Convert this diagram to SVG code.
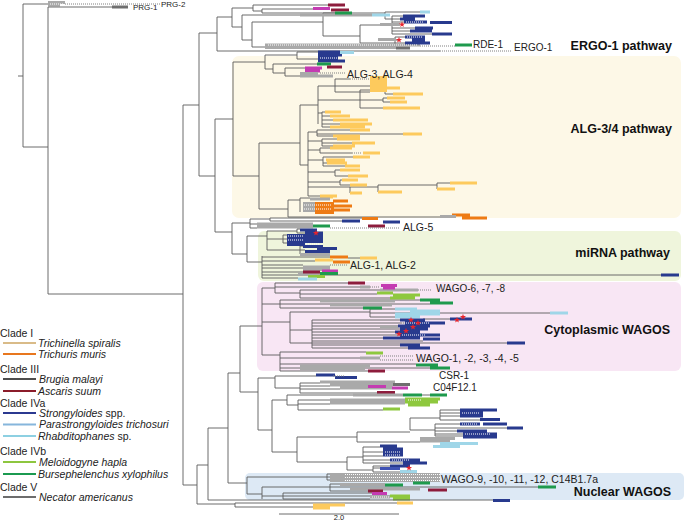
<svg xmlns="http://www.w3.org/2000/svg" xmlns:xlink="http://www.w3.org/1999/xlink" width="685" height="521" viewBox="0 0 685 521">
<style>
.t{fill:none;stroke:#5b5b5b;stroke-width:0.9}
.b{fill:none;stroke-width:3}
.gy{stroke:#a9a9a9}.dg{stroke:#6f6f6f}.nv{stroke:#283a8e}.bl{stroke:#3f52b4}.lb{stroke:#9fd6e8}
.mg{stroke:#c43bb2}.dr{stroke:#8d1c3c}.lm{stroke:#8ec83e}.gn{stroke:#1e9a4d}.or{stroke:#ee7b14}.yl{stroke:#fdca5d}
.dt{fill:none;stroke:#808080;stroke-width:1;stroke-dasharray:1 1}
.wd{fill:none;stroke:#fff;stroke-width:1;stroke-dasharray:1 1}
.lab{font-family:"Liberation Sans",Arial,sans-serif;font-size:10.5px;fill:#222}
.hd{font-family:"Liberation Sans",Arial,sans-serif;font-size:12.5px;font-weight:bold;fill:#111;text-anchor:end}
.lg{font-family:"Liberation Sans",Arial,sans-serif;font-size:10.5px;fill:#222}
.it{font-style:italic}
.ll{fill:none;stroke-width:2.2}
.star{fill:#e8242c}
</style>
<defs>
<path id="star" d="M0,-3.2L0.76,-1.05L3.04,-0.99L1.24,0.4L1.88,2.59L0,1.3L-1.88,2.59L-1.24,0.4L-3.04,-0.99L-0.76,-1.05Z"/>
</defs>
<rect width="685" height="521" fill="#fff"/>
<g id="backgrounds">
<rect x="232" y="56" width="449" height="162" rx="7" fill="#fdf8e7"/>
<rect x="258" y="231" width="423" height="50" rx="6" fill="#eff5dc"/>
<rect x="257" y="282" width="424" height="89" rx="6" fill="#f8e6f4"/>
<rect x="245" y="473" width="439" height="27" rx="5" fill="#dde9f5"/>
</g>
<g id="connectors">
<path class="t" d="M18 76H23M23 4V147M23 4H48M23 147H48M48 7V294M48 294H183M183 105V485M183 105H199M199 33V176M199 33H217M217 17V51M199 176H215M215 119V232M215 119H233M233 62V176M233 176H259M259 143V209M215 232H232M232 223V254M183 485H197M197 465V504M197 465H208M208 428V500M208 428H228M228 373V483M228 373H240M240 326V392"/>
</g>
<g id="clade-prg">
<path class="b gy" d="M48 2.5H65M48 5H60"/>
<path class="wd" d="M50 4H64"/>
<path class="dt" d="M65 4H160"/>
<path class="t" d="M48 7H112"/>
<path class="b dg" d="M112 7H128"/>
</g>
<g id="clade-ergo1">
<path class="t" d="M217 17H232M232 8V27M232 8H253M253 5V11M253 5H328M253 11H262M262 9V13M262 9H313M262 13H335M232 27H242M242 15V40M242 15H300M242 40H252M252 22V47M252 22H323M323 13V36M323 13H385M385 12V19M385 12H420M385 19H400M323 36H360M360 25V43M360 25H392M392 16V34M392 16H403M392 22H404M392 25H400M392 28H415M392 31H410M392 34H432M360 43H395M395 37V46M395 37H405M395 40H398M395 43H405M252 47H265M217 51H440"/>
<path class="b gy" d="M300 15H372M265 45H420M265 47.5H396M380 24.5H400M378 39.5H396"/>
<path class="b dg" d="M396 48H410"/>
<path class="b dr" d="M328 5H345M331 10H349"/>
<path class="b mg" d="M313 8.5H330"/>
<path class="b gn" d="M335 13H352M455 45H472"/>
<path class="b lb" d="M372 15H390M420 12H430"/>
<path class="b nv" d="M403 16H425M400 19H415M404 22H427M430 22.5H452M415 28H433M410 31H432M432 34H452M405 37H425M412 40H425M405 43H430"/>
<path class="wd" d="M406 22H424M407 37H423M268 45H418"/>
<path class="dt" d="M420 46H455M440 51H512"/>
<use href="#star" class="star" x="402" y="24.5"/>
<use href="#star" class="star" x="399" y="40"/>
</g>
<g id="clade-alg34">
<path class="t" d="M233 62H265M265 55V69M265 55H297M297 52V59M297 52H318M297 59H318M265 69H273M273 64V73M273 64H317M273 73H285M285 68V76M285 68H305M285 76H300"/>
<path class="b nv" d="M318 52H340M318 55H342M318 58H338M318 61H345"/>
<path class="wd" d="M320 58H337"/>
<path class="b lb" d="M340 52.5H354"/>
<path class="b gn" d="M317 64H331"/>
<path class="b mg" d="M305 68H322M305 71H320"/>
<path class="b dr" d="M327 67H342"/>
<path class="b gy" d="M300 76H333M300 73.5H318"/>
<path class="dt" d="M320 73H346"/>
<path class="t" d="M259 143H300M300 105V165M300 105H318M318 86V124M318 86H335M335 79V92M335 79H350M335 86H370M335 92H370M318 100H360M360 90V108M360 90H385M385 88V94M385 88H387M385 94H393M360 100H383M383 98V102M383 98H387M383 102H390M360 108H383M318 113H322M322 112V127M322 112H325M322 116H330M322 120H333M322 124H340M322 127H330"/>
<rect x="370" y="76" width="17" height="16" fill="#fdca5d"/>
<path class="dt" d="M350 79H369"/>
<path class="b yl" d="M387 88H400M393 94H423M387 98H405M390 102H407M383 108H420M325 112H341M330 116H350M333 120H368M340 124H372M330 127H365"/>
<path class="t" d="M300 165H308M308 132V196M308 132H317M317 130V136M317 130H350M317 134H403M317 136H333M308 141H322M322 139V146M322 139H337M322 143H352M322 146H333M308 150H320M320 148V153M320 148H330M320 153H352M308 160H323M323 157V166M323 157H353M323 163H327M323 166H345M308 172H335M335 170V176M335 170H340M335 176H348M308 182H340M340 180V185M340 180H342M340 185H350M308 187H350M350 187V193M350 187H378M378 185V192M378 185H437M437 183V189M437 183H450M378 192H378M308 196H320"/>
<path class="b yl" d="M350 130H370M403 134H422M333 136H360M337 139H360M352 143H375M333 146H355M330 148H352M363 153H380M353 157H370M327 163H347M345 166H360M340 170H360M348 176H368M342 180H358M350 185H367M450 183H477M437 189H455M378 192H402M350 193H362M320 196H337M326 160H345"/>
<path class="dt" d="M352 153H362"/>
<path class="t" d="M259 209H288M288 200V217M288 200H300M300 198V212M300 198H310M288 217H452"/>
<rect x="303" y="202" width="13" height="10" fill="#a9a9a9"/>
<rect x="315" y="202" width="19" height="12" fill="#ee7b14"/>
<path class="wd" d="M304 205H332M304 209H332"/>
<path class="b or" d="M333 201H348M333 206H352M333 210H350M452 215H470M462 218H487"/>
<path class="b yl" d="M320 197H333"/>
<path class="b gy" d="M310 199H330M440 216.5H456"/>
</g>
<g id="clade-alg5">
<path class="t" d="M232 223H250M250 219V228M250 219H270M270 218V221M270 218H362M270 221H342M250 224H257M250 228H257"/>
<path class="b gy" d="M257 224H313M257 227H313"/>
<path class="b gn" d="M313 226H330"/>
<path class="b dr" d="M368 226H385"/>
<path class="b nv" d="M342 221H360M383 222H400"/>
<path class="b or" d="M362 218.5H378"/>
<path class="dt" d="M330 228H400"/>
</g>
<g id="clade-mirna">
<path class="t" d="M232 254H247M247 236V262M247 236H267M267 231V250M267 231H297M297 229V233M297 229H300M297 233H305M267 239H283M283 235V243M283 235H287M283 239H287M283 243H287M267 250H300M300 246V254M300 246H303M300 250H305M247 262H262M262 256V278M262 257H330M348 258H360M262 261H315M262 265H303M262 268H303M262 272H303M262 275H661M262 278H298"/>
<path class="b nv" d="M300 230H317M305 233H323M287 235.5H323M287 238.5H323M287 241.5H323M287 244.5H305M303 246.5H323M317 248.5H337M305 251.5H330M661 275H679"/>
<path class="wd" d="M288 236H304M288 240H304M306 244H320"/>
<use href="#star" class="star" x="316" y="233"/>
<path class="b gy" d="M300 254.5H330M303 267H330M303 269.5H330M298 274H320"/>
<path class="b or" d="M330 257H348M333 262H350"/>
<path class="b yl" d="M360 258H377M315 260H333"/>
<path class="dt" d="M330 265H348"/>
<path class="b dr" d="M303 272H320"/>
<path class="b mg" d="M322 271H338"/>
<path class="b gn" d="M320 273.5H338"/>
<path class="b lm" d="M308 276.5H325"/>
<path class="b lb" d="M298 279H317"/>
</g>
<g id="clade-cytoplasmic-wago">
<path class="t" d="M240 326H262M262 288V355M262 288H275M275 283V293M275 283H348M275 287H360M275 293H300M300 290V298M300 290H380M300 294H377M300 298H390M262 304H280M280 300V308M280 300H420M280 304H430M280 308H363M262 322H290M290 312V343M290 312H370M370 309V317M370 309H395M370 313H550M370 317H395M290 330H312M312 320V348M312 320H400M312 323H405M312 326H398M312 329H400M312 332H395M312 335H400M312 338H383M312 341H423M312 345H400M312 348H408M290 343H507M262 355H280M280 352V371M280 352H366M280 358H360M280 364H416M280 368H430M280 371H368M423 319H450"/>
<path class="b dr" d="M348 283H365M368 371H385"/>
<path class="b gy" d="M360 287H370M380 290H418M320 301H395M330 305H392M360 358H380M300 366H370M300 369H365M380 327H398"/>
<path class="dt" d="M370 287H380M418 290H432M380 356H413M380 360H413"/>
<path class="b mg" d="M381 285.5H397M383 288H395"/>
<path class="b lm" d="M377 293H393M393 295H420M390 298H415M366 353H383"/>
<path class="b gn" d="M420 300H440M430 303H453M363 308H382M416 365H438M430 368H450"/>
<path class="b lb" d="M395 309H417M410 311H440M395 314H440M395 317H420M550 313H568"/>
<path class="b nv" d="M400 320H425M405 323H445M398 326H430M400 329H428M395 332H420M400 335H440M383 338H420M423 339H440M400 345H420M408 348H430M507 343H525M450 319H472"/>
<path class="wd" d="M402 323H430M402 335H425"/>
<use href="#star" class="star" x="411" y="320"/>
<use href="#star" class="star" x="418" y="323"/>
<use href="#star" class="star" x="413" y="327"/>
<use href="#star" class="star" x="406" y="331"/>
<use href="#star" class="star" x="399" y="334"/>
<use href="#star" class="star" x="457" y="320"/>
<use href="#star" class="star" x="463" y="317"/>
</g>
<g id="clade-csr1">
<path class="t" d="M240 392H258M258 378V430M258 378H275M275 376V388M275 376H316"/>
<path class="b nv" d="M316 375H335M335 377.5H357"/>
<path class="dt" d="M333 376H345"/>
</g>
<g id="clade-c04f12">
<path class="t" d="M275 388H300M300 383V393M300 383H320M300 386H330M300 389H340M300 393H377"/>
<path class="b gy" d="M320 382H395M330 385H393M340 388H392"/>
<path class="b dg" d="M393 384.5H410"/>
<path class="b mg" d="M368 386.5H386M392 388H408"/>
<path class="b dr" d="M377 392.5H395"/>
</g>
<g id="clade-ivb">
<path class="t" d="M258 430H272M272 400V452M272 400H287M287 395V405M287 395H353M287 405H298M298 400V410M298 400H330M298 404H330M298 410H383M422 395H430"/>
<path class="b gy" d="M353 395H403M330 400H405M330 403H405"/>
<path class="b gn" d="M403 395H422M430 395H447"/>
<path class="b lm" d="M405 399H440M405 402H438M408 405H430M383 409H400"/>
<path class="wd" d="M408 400H422"/>
</g>
<g id="clade-strongyloides-a">
<path class="t" d="M272 452H297M297 437V462M297 437H357M357 432V442M357 432H410M410 418V430M410 418H440M440 410V420M440 410H460M440 413H460M440 416H460M440 420H480M410 430H435M435 424V436M435 424H460M435 428H507M435 431H457M435 434H463M435 436H463M357 442H420"/>
<path class="b nv" d="M460 410H497M460 413H483M460 416H483M480 419.5H500M460 424H480M483 424H507M507 428H523M457 431H487M463 434H497M463 437H497"/>
<path class="wd" d="M462 413H480M462 424H478M465 434H490"/>
<path class="b gy" d="M420 438.5H455M420 441H450"/>
<path class="b lb" d="M440 443.5H478M433 446.5H460"/>
</g>
<g id="clade-strongyloides-b">
<path class="t" d="M297 462H347M347 457V470M347 457H363M363 447V463M363 447H380M363 452H383M363 456H383M363 460H390M363 463H403M347 470H373M373 466V472M373 466H390M373 468H380M373 472H400"/>
<path class="b nv" d="M380 446H397M383 449H403M383 452H403M383 455H403M390 460H420M403 463H427M390 466H410"/>
<path class="b bl" d="M380 468.5H400"/>
<path class="b lb" d="M400 471.5H417"/>
<path class="wd" d="M385 452H400M385 455H400M392 460H410"/>
<use href="#star" class="star" x="409" y="468"/>
</g>
<g id="clade-nuclear-wago">
<path class="t" d="M228 483H247M247 477V494M247 477H327M327 474V480M327 474H330M327 477H330M327 480H330M247 494H262M262 487V499M262 487H330M330 484V491M330 484H385M330 487H538M330 491H368M262 496H283M283 493V499M283 493H372M283 496H390M283 499H370"/>
<path class="b gy" d="M330 474.5H440M330 477.5H440M330 480.5H440M340 484.5H385M350 489H420M370 497H390"/>
<path class="wd" d="M345 474.5H440M345 477.5H440M345 480.5H440M372 497H390"/>
<path class="b gn" d="M385 485H403M413 483H430M538 487H556"/>
<path class="b dr" d="M428 490H447M368 491H383"/>
<path class="b mg" d="M372 493.5H387"/>
<path class="b lm" d="M390 496H410M393 499H410"/>
</g>
<g id="clade-base">
<path class="t" d="M208 500H493M197 504H235M235 503V507M235 503H397M235 507H313"/>
<path class="b nv" d="M493 500.5H510"/>
<path class="b yl" d="M397 503H413M313 505H345M313 508H330"/>
</g>
<g id="labels">
<text x="161" y="6.5" style="font-family:'Liberation Sans',Arial,sans-serif;font-size:8px;fill:#222">PRG-2</text>
<text x="133" y="9.5" style="font-family:'Liberation Sans',Arial,sans-serif;font-size:8px;fill:#222">PRG-1</text>
<text x="473" y="48" class="lab" style="font-size:10px">RDE-1</text>
<text x="514" y="51" class="lab" style="font-size:10px">ERGO-1</text>
<text x="347" y="78" class="lab">ALG-3, ALG-4</text>
<text x="403" y="231" class="lab">ALG-5</text>
<text x="350" y="269" class="lab">ALG-1, ALG-2</text>
<text x="436" y="292" class="lab" style="font-size:10px">WAGO-6, -7, -8</text>
<text x="416" y="362" class="lab">WAGO-1, -2, -3, -4, -5</text>
<text x="439" y="378.5" class="lab" style="font-size:10px">CSR-1</text>
<text x="433" y="391" class="lab" style="font-size:10px">C04F12.1</text>
<text x="441" y="483" class="lab">WAGO-9, -10, -11, -12, C14B1.7a</text>
<text x="672" y="50" class="hd">ERGO-1 pathway</text>
<text x="672" y="133" class="hd">ALG-3/4 pathway</text>
<text x="670" y="257" class="hd">miRNA pathway</text>
<text x="670" y="334" class="hd">Cytoplasmic WAGOS</text>
<text x="671" y="496" class="hd">Nuclear WAGOS</text>
</g>
<g id="legend">
<text x="0" y="337" class="lg">Clade I</text>
<path class="ll" stroke="#d9bb88" d="M3 343H36"/>
<text x="38" y="347" class="lg it">Trichinella spiralis</text>
<path class="ll" stroke="#e8771e" d="M3 354H36"/>
<text x="38" y="358" class="lg it">Trichuris muris</text>
<text x="0" y="373" class="lg">Clade III</text>
<path class="ll" stroke="#4d4d4d" d="M3 379H36"/>
<text x="39" y="383" class="lg it">Brugia malayi</text>
<path class="ll" stroke="#8b1c2a" d="M3 391H36"/>
<text x="38" y="395" class="lg it">Ascaris suum</text>
<text x="0" y="407" class="lg">Clade IVa</text>
<path class="ll" stroke="#2b3990" d="M3 413H36"/>
<text x="39" y="417" class="lg"><tspan class="it">Strongyloides</tspan> spp.</text>
<path class="ll" stroke="#86b6dc" d="M3 424.5H36"/>
<text x="39" y="428" class="lg it">Parastrongyloides trichosuri</text>
<path class="ll" stroke="#8dd0e2" d="M3 436H36"/>
<text x="38" y="440" class="lg"><tspan class="it">Rhabditophanes</tspan> sp.</text>
<text x="0" y="455" class="lg">Clade IVb</text>
<path class="ll" stroke="#8dc63f" d="M3 462H36"/>
<text x="39" y="466" class="lg it">Meloidogyne hapla</text>
<path class="ll" stroke="#1b9a50" d="M3 474H36"/>
<text x="38" y="478" class="lg it">Bursephelenchus xylophilus</text>
<text x="0" y="491" class="lg">Clade V</text>
<path class="ll" stroke="#6d6d6d" d="M3 497H36"/>
<text x="39" y="501" class="lg it">Necator americanus</text>
</g>
<g id="scale">
<path class="t" d="M279 514H399"/>
<text x="339" y="519.5" text-anchor="middle" style="font-family:'Liberation Sans',Arial,sans-serif;font-size:7.5px;fill:#222">2.0</text>
</g>
</svg>
